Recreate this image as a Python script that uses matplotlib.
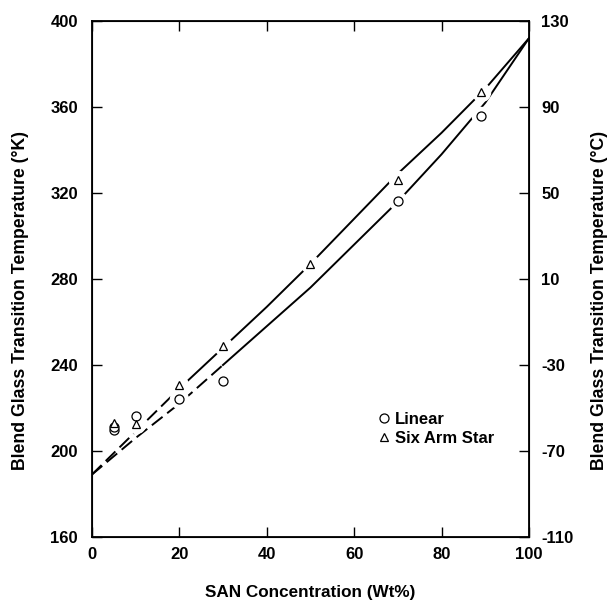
import numpy as np
import matplotlib
matplotlib.use("Agg")
import matplotlib.pyplot as plt

plt.rcParams["font.family"] = ["Liberation Sans", "DejaVu Sans"]
plt.rcParams["font.weight"] = "bold"
plt.rcParams["axes.unicode_minus"] = False

# measured Tg points (K) vs SAN wt%
linear_x = [5, 5, 10, 20, 30, 70, 89]
linear_y = [210, 211, 216.5, 224, 232.5, 316.5, 356]
star_x = [5, 10, 20, 30, 50, 70, 89]
star_y = [213, 212.5, 230.5, 249, 287, 326, 367]

# fitted curves
curve_x = [0, 10, 20, 30, 40, 50, 60, 70, 80, 90, 100]
linear_curve = [189, 206, 222, 240, 258, 276, 296, 316, 338, 362, 392]
star_curve = [189, 209, 229, 248, 267, 287, 308, 329, 348, 368.5, 392]

xticks = [0, 20, 40, 60, 80, 100]
k_ticks = [160, 200, 240, 280, 320, 360, 400]
c_ticks = [-110, -70, -30, 10, 50, 90, 130]

FS = 12

fig = plt.figure(figsize=(6.08, 6.01), dpi=100)
ax = fig.add_axes([0.151, 0.1065, 0.719, 0.8585])

dash = (0, (7, 3))
ax.plot(curve_x[:3], star_curve[:3], color="black", lw=1.4, linestyle=dash, zorder=1)
ax.plot(curve_x[2:], star_curve[2:], color="black", lw=1.4, zorder=1)
ax.plot(curve_x[:4], linear_curve[:4], color="black", lw=1.4, linestyle=dash, zorder=1)
ax.plot(curve_x[3:], linear_curve[3:], color="black", lw=1.4, zorder=1)

# white halos so the curves break around the symbols
ax.plot(linear_x, linear_y, "o", ms=13, color="white", zorder=2)
ax.plot(star_x, star_y, "o", ms=13, color="white", zorder=2)

ax.plot(linear_x, linear_y, "o", ms=6.5, mfc="white", mec="black", mew=0.9,
        linestyle="none", zorder=3, label="Linear")
ax.plot(star_x, star_y, "^", ms=6, mfc="white", mec="black", mew=0.9,
        linestyle="none", zorder=3, label="Six Arm Star")

ax.set_xlim(0, 100)
ax.set_ylim(160, 400)
ax.set_xticks(xticks)
ax.set_yticks(k_ticks)
ax.tick_params(direction="in", length=7, width=1, labelsize=FS, top=True)
ax.tick_params(axis="x", pad=7)
ax.tick_params(axis="y", pad=10)
for s in ax.spines.values():
    s.set_linewidth(1.3)

ax.set_xlabel("SAN Concentration (Wt%)", fontsize=12.3, fontweight="bold")
ax.xaxis.set_label_coords(0.5, -0.093)
ax.set_ylabel("Blend Glass Transition Temperature (°K)", fontsize=12.7, fontweight="bold")
ax.yaxis.set_label_coords(-0.144, 0.459)

ax2 = ax.twinx()
ax2.set_position(ax.get_position())
ax2.set_ylim(-110, 130)
ax2.set_yticks(c_ticks)
ax2.tick_params(direction="in", length=7, width=1, labelsize=FS, pad=9)
ax2.set_ylabel("Blend Glass Transition Temperature (°C)", fontsize=12.7, fontweight="bold")
ax2.yaxis.set_label_coords(1.141, 0.459)

leg = ax.legend(loc="upper left", bbox_to_anchor=(0.622, 0.272), frameon=False,
                handlelength=0.6, handletextpad=0.35, labelspacing=0.25,
                prop={"size": FS, "weight": "bold"})

fig.savefig("out.png", dpi=100)
